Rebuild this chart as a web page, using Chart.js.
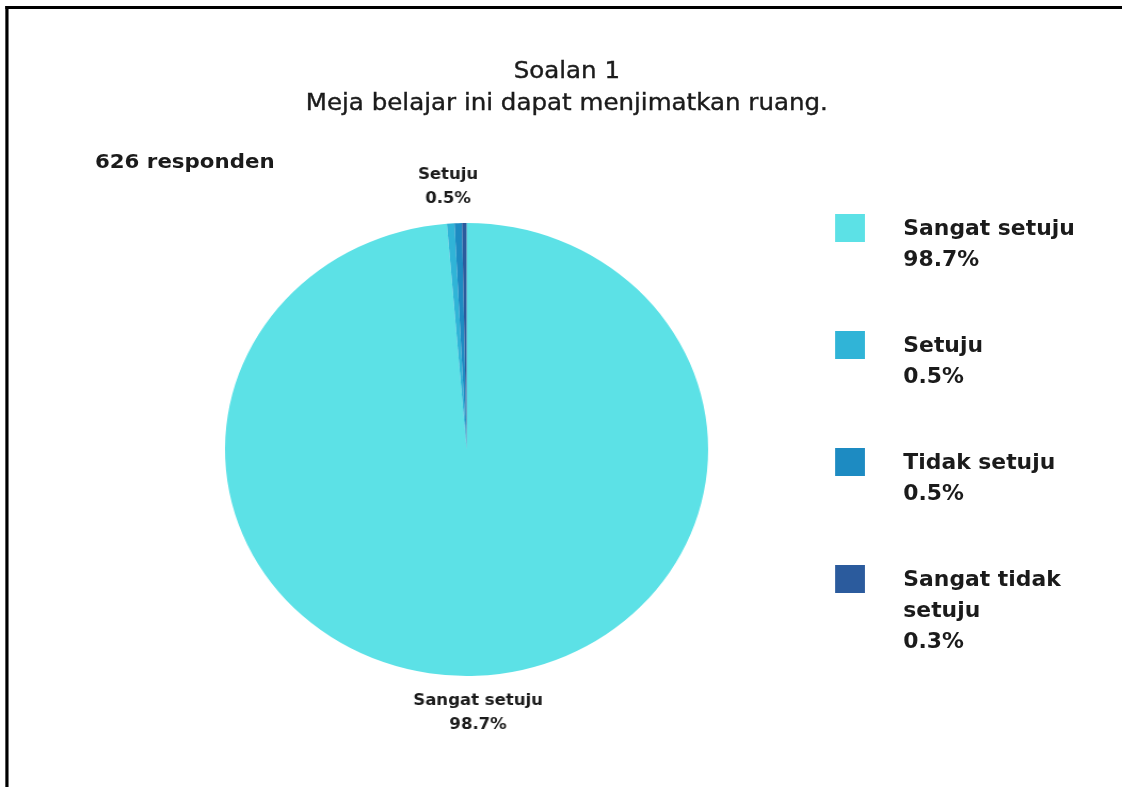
<!DOCTYPE html>
<html lang="ms">
    <head>
        <meta charset="UTF-8" />
        <title>Soalan 1</title>
        <script src="https://cdn.jsdelivr.net/npm/chart.js"></script>
        <style>
            html,
            body {
                margin: 0;
                padding: 0;
                background: #ffffff;
                overflow: hidden;
            }
            /* the reference is a little stretched sideways, so the whole page is too */
            .page {
                position: absolute;
                left: 0;
                top: 0;
                width: 1052px;
                height: 787px;
                transform: scaleX(1.0665);
                transform-origin: 0 0;
                font-family: "DejaVu Sans", sans-serif;
                color: #1b1b1b;
            }
            .frame {
                position: absolute;
                left: 5px;
                top: 6px;
                width: 1200px;
                height: 900px;
                border-left: 3px solid #000;
                border-top: 3px solid #000;
                box-sizing: border-box;
            }
            .chart-container {
                position: absolute;
                left: 0;
                top: 0;
                width: 1052px;
                height: 787px;
            }
            .title {
                position: absolute;
                left: 0;
                width: 1063px;
                top: 54px;
                text-align: center;
                font-size: 23px;
                font-weight: 400;
                line-height: 32px;
                -webkit-text-stroke: 0.4px #1b1b1b;
            }
            .count {
                position: absolute;
                left: 89px;
                top: 149px;
                font-size: 20px;
                font-weight: 700;
            }
            .legend {
                position: absolute;
                left: 783px;
                top: 213px;
                display: flex;
                flex-direction: column;
                gap: 55px;
            }
            .legend-item {
                display: flex;
                align-items: flex-start;
            }
            .swatch {
                width: 28px;
                height: 28px;
                margin-top: 1px;
                flex: none;
            }
            .legend-text {
                margin-left: 36px;
                width: 200px;
                font-size: 20.5px;
                font-weight: 700;
                line-height: 31px;
            }
        </style>
    </head>
    <body>
        <div class="page">
            <div class="frame"></div>
            <div class="title">Soalan 1<br />Meja belajar ini dapat menjimatkan ruang.</div>
            <div class="count" id="count"></div>
            <div class="chart-container">
                <canvas id="pieChart"></canvas>
            </div>
            <div class="legend" id="legend"></div>
        </div>

        <script>
            const respondents = 626;
            const answers = ["Sangat setuju", "Setuju", "Tidak setuju", "Sangat tidak setuju"];
            const percentages = [98.7, 0.5, 0.5, 0.3];
            const colours = ["#5ce1e6", "#30b4d7", "#1d8bc2", "#2b5b9d"];
            // only these slices get a label beside the pie
            const labelledSlices = [0, 1];

            function pctText(value) {
                return value.toFixed(1) + "%";
            }

            document.getElementById("count").textContent = respondents + " responden";

            // legend on the right
            document.getElementById("legend").innerHTML = answers
                .map(
                    (answer, i) => `
                    <div class="legend-item">
                        <div class="swatch" style="background:${colours[i]}"></div>
                        <div class="legend-text">${answer}<br />${pctText(percentages[i])}</div>
                    </div>`
                )
                .join("");

            // names and percentages drawn outside the pie
            const outsideLabels = {
                id: "outsideLabels",
                afterDatasetsDraw(chart) {
                    const ctx = chart.ctx;
                    const arcs = chart.getDatasetMeta(0).data;
                    ctx.save();
                    ctx.fillStyle = "#1b1b1b";
                    ctx.font = "700 15.5px 'DejaVu Sans', sans-serif";
                    ctx.textAlign = "center";
                    ctx.textBaseline = "middle";
                    labelledSlices.forEach((i) => {
                        const arc = arcs[i];
                        const mid = (arc.startAngle + arc.endAngle) / 2;
                        const dist = arc.outerRadius + 37;
                        const x = arc.x + Math.cos(mid) * dist;
                        const y = arc.y + Math.sin(mid) * dist;
                        ctx.fillText(answers[i], x, y - 12);
                        ctx.fillText(pctText(percentages[i]), x, y + 12);
                    });
                    ctx.restore();
                },
            };

            new Chart(document.getElementById("pieChart"), {
                type: "pie",
                data: {
                    labels: answers,
                    datasets: [
                        {
                            data: percentages,
                            backgroundColor: colours,
                            borderWidth: 0,
                            hoverOffset: 0,
                        },
                    ],
                },
                options: {
                    responsive: true,
                    maintainAspectRatio: false,
                    animation: false,
                    layout: {
                        padding: { left: 211, right: 388, top: 223, bottom: 111 },
                    },
                    plugins: {
                        legend: { display: false },
                        tooltip: { enabled: false },
                    },
                },
                plugins: [outsideLabels],
            });
        </script>
    </body>
</html>
